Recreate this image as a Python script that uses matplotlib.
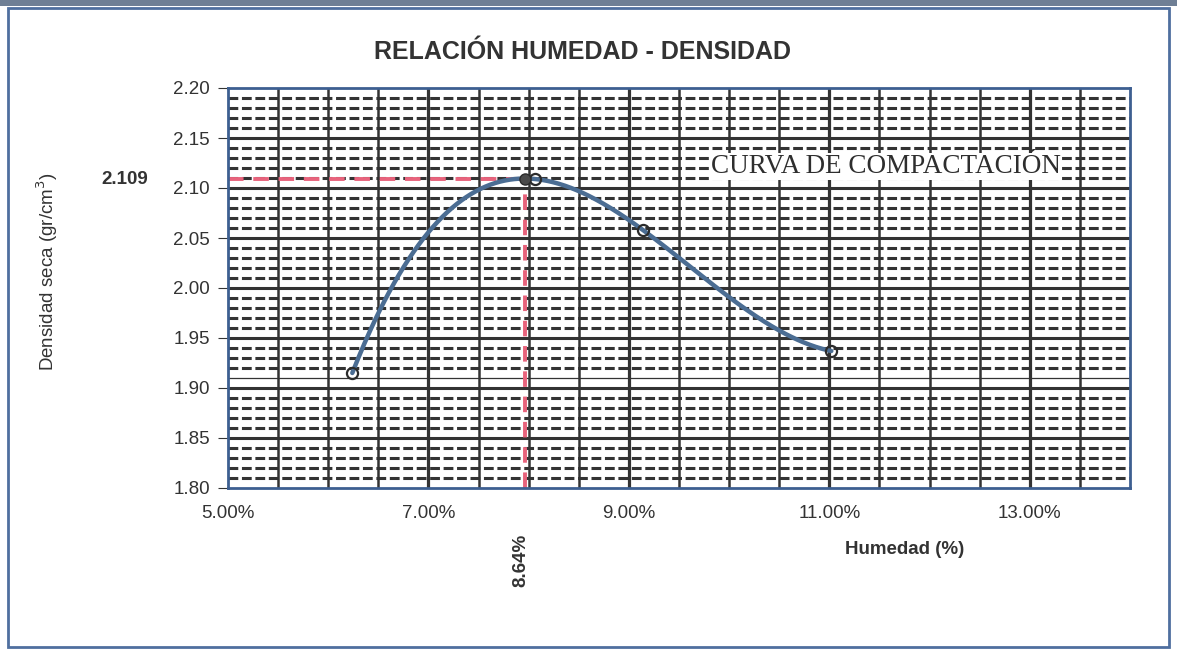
import numpy as np
import matplotlib
matplotlib.use("Agg")
import matplotlib.pyplot as plt
from matplotlib.patches import Rectangle
from matplotlib.ticker import FuncFormatter

# Compaction test points: moisture (%) and dry density (gr/cm3)
moisture = [6.24, 8.06, 9.14, 11.02]
dry_density = [1.915, 2.109, 2.058, 1.937]

max_density_label = "2.109"
opt_moisture_label = "8.64%"

x_ticks = [5, 7, 9, 11, 13]
y_ticks = [1.80, 1.85, 1.90, 1.95, 2.00, 2.05, 2.10, 2.15, 2.20]

plt.rcParams["font.family"] = ["Liberation Sans", "DejaVu Sans"]

fig = plt.figure(figsize=(11.77, 6.55), dpi=100)
W, H = 1177, 655
ax = fig.add_axes([228 / W, 1 - 488 / H, (1130 - 228) / W, (488 - 88) / H])
ax.set_xlim(5, 14)
ax.set_ylim(1.80, 2.20)

grid_c = "#333333"
# dashed rows every 0.01, solid rows every 0.05
for k in range(1, 40):
    yv = 1.80 + k * 0.01
    if k % 5 == 0:
        ax.axhline(yv, color=grid_c, lw=2.2, zorder=1)
    elif k == 11:
        ax.axhline(yv, color=grid_c, lw=0.9, zorder=1)
    else:
        ax.axhline(yv, color=grid_c, lw=2.2, ls=(0, (3.2, 1.2)), zorder=1)
# solid columns every 0.5 %
for k in range(1, 18):
    xv = 5 + k * 0.5
    ax.axvline(xv, color=grid_c, lw=1.8 if k % 4 else 2.3, zorder=1)

# fitted compaction curve (cubic through the test points)
coef = np.polyfit(moisture, dry_density, 3)
xs = np.linspace(min(moisture), max(moisture), 400)
ys = np.polyval(coef, xs)
ax.plot(xs, ys, color="#4b6d93", lw=3.2, zorder=4, solid_capstyle="round")
ax.plot(moisture, dry_density, "o", ms=8, mfc="none", mec="#2b2b2b", mew=1.6, zorder=5)

i_pk = int(np.argmax(ys))
x_pk, y_pk = xs[i_pk], float(max_density_label)
ax.plot([x_pk], [y_pk], "o", ms=8, color="#4a4a4a", mec="#2b2b2b", zorder=6)

red = "#e8637c"
ax.plot([5, x_pk], [y_pk, y_pk], color=red, lw=2.8, ls=(0, (4, 2.5)), zorder=3)
ax.plot([x_pk, x_pk], [1.80, y_pk], color=red, lw=2.8, ls=(0, (4, 2.5)), zorder=3)

ax.text(11.56, 2.1215, "CURVA DE COMPACTACIÓN", family=["Liberation Serif", "DejaVu Serif"],
        fontsize=19.5, color="#2e2e2e", ha="center", va="center", zorder=6,
        bbox=dict(facecolor="white", edgecolor="none", pad=0.5))

ax.set_xticks(x_ticks)
ax.set_yticks(y_ticks)
ax.xaxis.set_major_formatter(FuncFormatter(lambda v, p: f"{v:.2f}%"))
ax.yaxis.set_major_formatter(FuncFormatter(lambda v, p: f"{v:.2f}"))
ax.tick_params(axis="both", labelsize=13.5, colors="#333333", length=7, width=0.8,
               direction="out", pad=6)
ax.tick_params(axis="x", length=0, pad=12)
for s in ax.spines.values():
    s.set_color("#3d5f91")
    s.set_linewidth(2.0)
    s.set_zorder(7)

ax.set_ylabel("Densidad seca (gr/cm$^3$)", fontsize=13.5, color="#333333")
ax.yaxis.set_label_coords(-0.186, 0.54)

fig.text(582 / W, 1 - 52 / H, "RELACIÓN HUMEDAD - DENSIDAD",
         family=["Liberation Sans Narrow", "Liberation Sans", "DejaVu Sans"],
         fontsize=18, fontweight="bold", color="#333333", ha="center", va="center")
ax.text(4.2, y_pk, max_density_label, fontsize=13.5,
        fontweight="bold", color="#333333", ha="right", va="center", clip_on=False)
ax.text(x_pk - 0.04, 1.728, opt_moisture_label, fontsize=13.5, fontweight="bold",
        color="#333333", ha="center", va="center", rotation=90, clip_on=False)
fig.text(905 / W, 1 - 549 / H, "Humedad (%)", fontsize=13.5, fontweight="bold",
         color="#333333", ha="center", va="center")

# page frame
fig.patches.append(Rectangle((8 / W, 8 / H), (1169 - 8) / W, (647 - 8) / H,
                             transform=fig.transFigure, fill=False,
                             edgecolor="#4f6f9f", lw=2.0))
fig.patches.append(Rectangle((0, 1 - 6 / H), 1, 6 / H, transform=fig.transFigure,
                             facecolor="#6f7f95", edgecolor="none"))

fig.savefig("out.png", dpi=100)
